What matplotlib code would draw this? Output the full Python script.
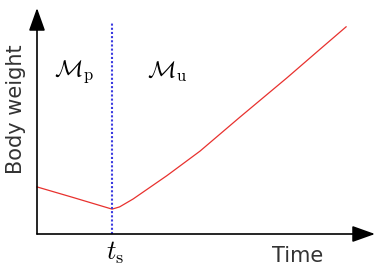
import matplotlib.pyplot as plt

plt.rcParams['mathtext.fontset'] = 'cm'

# switch time t_s and body weight curve (arbitrary units)
t_switch = 2.0
time = [0.0, 0.96, 2.0, 2.2, 2.56, 3.46, 4.34, 5.4, 6.66, 7.53, 8.23]
weight = [1.25, 0.97, 0.66, 0.72, 0.93, 1.55, 2.2, 3.1, 4.15, 4.9, 5.5]
phase_labels = [r'$\mathcal{M}_\mathrm{p}$', r'$\mathcal{M}_\mathrm{u}$']
phase_x = [0.99, 3.46]

fig = plt.figure(figsize=(3.77, 2.72), dpi=100)
ax = fig.add_axes([37 / 377, 38 / 272, 338 / 377, 226 / 272])
ax.set_xlim(0, 9)
ax.set_ylim(0, 6)
ax.axis('off')

# axes with arrow heads
arrow = dict(arrowstyle='-|>,head_length=0.7,head_width=0.25', color='black',
             lw=1.2, shrinkA=0, shrinkB=0, mutation_scale=20)
ax.annotate('', xy=(1, 0), xytext=(0, 0), xycoords='axes fraction',
            arrowprops=arrow, annotation_clip=False)
ax.annotate('', xy=(0, 1), xytext=(0, 0), xycoords='axes fraction',
            arrowprops=arrow, annotation_clip=False)

ax.plot(time, weight, color='#e8312e', lw=0.9, clip_on=False)
ax.plot([t_switch, t_switch], [0, 5.62], color='#3a3ae0', lw=1.5,
        linestyle=(0, (1, 1)), clip_on=False)

for lab, x in zip(phase_labels, phase_x):
    ax.text(x, 4.3, lab, fontsize=17, ha='center', va='center')

ax.text(t_switch + 0.08, -0.5, r'$t_\mathrm{s}$', fontsize=19, ha='center', va='center')
ax.text(6.95, -0.58, 'Time', fontsize=15, color='#333333', ha='center', va='center')
ax.text(-0.56, 3.32, 'Body weight', fontsize=15, color='#333333', rotation=90,
        ha='center', va='center')

fig.savefig('out.png', dpi=100)
